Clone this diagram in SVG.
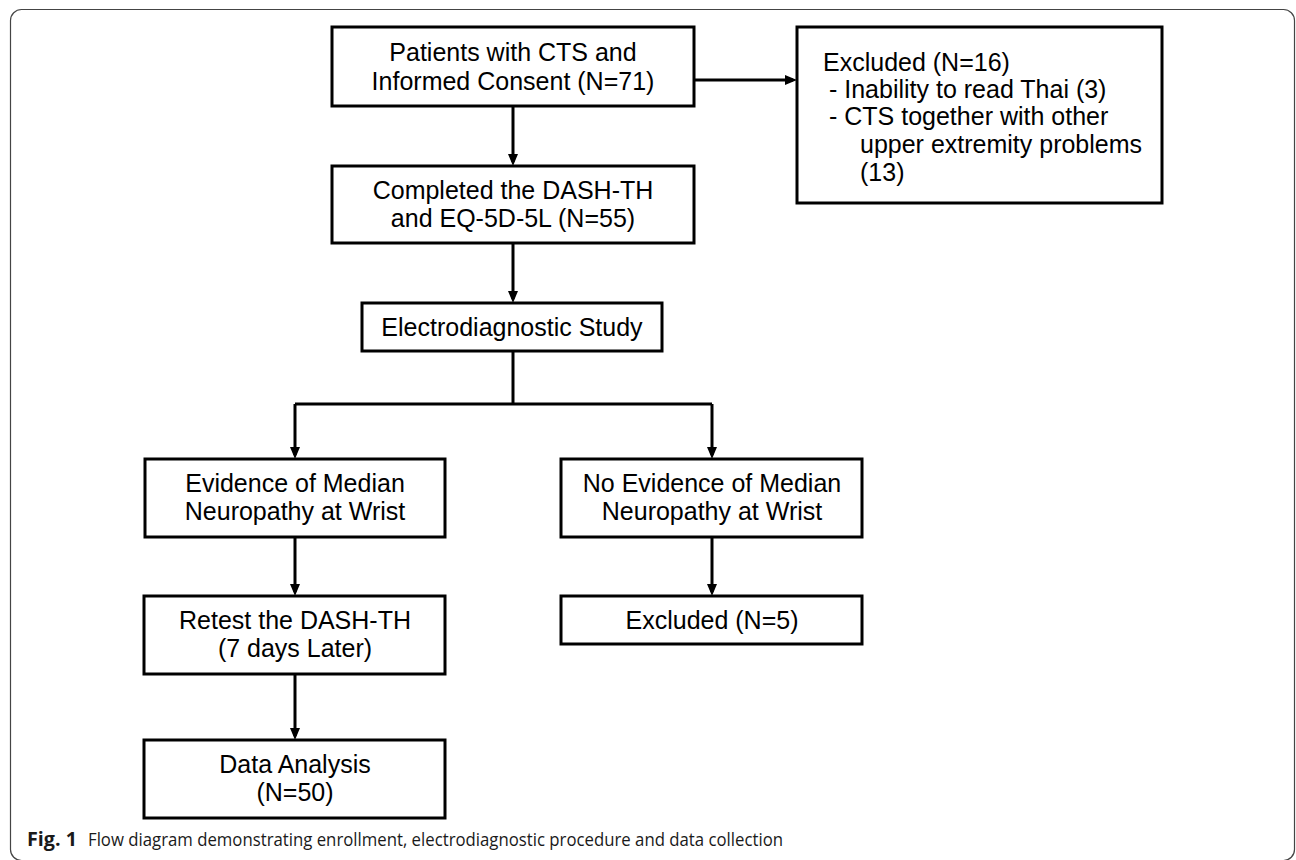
<svg xmlns="http://www.w3.org/2000/svg" width="1296" height="860" viewBox="0 0 1296 860">
<style>
.box{fill:#fff;stroke:#000;stroke-width:3}
.t{font-family:"Liberation Sans",Arial,sans-serif;font-size:25px;fill:#000;text-anchor:middle}
.tl{font-family:"Liberation Sans",Arial,sans-serif;font-size:25px;fill:#000}
.c{fill:none;stroke:#000;stroke-width:3}
.cap{font-family:"Open Sans","Noto Sans",sans-serif;font-size:19px;fill:#1a1a1a}
</style>
<defs>
<marker id="ah" markerUnits="userSpaceOnUse" markerWidth="12" markerHeight="10" refX="8" refY="5" orient="auto">
<path d="M0,0 L12,5 L0,10 z" fill="#000"/>
</marker>
</defs>
<rect x="10.5" y="9.5" width="1284" height="851" rx="11" fill="#fff" stroke="#444" stroke-width="1.2"/>
<g id="connectors">
<path class="c" d="M513,106 V162" marker-end="url(#ah)"/>
<path class="c" d="M694,80 H793" marker-end="url(#ah)"/>
<path class="c" d="M513,243 V299" marker-end="url(#ah)"/>
<path class="c" d="M513,351 V404"/>
<path class="c" d="M295,404 H712"/>
<path class="c" d="M295,404 V455" marker-end="url(#ah)"/>
<path class="c" d="M712,404 V455" marker-end="url(#ah)"/>
<path class="c" d="M295,537 V592" marker-end="url(#ah)"/>
<path class="c" d="M295,674 V736" marker-end="url(#ah)"/>
<path class="c" d="M712,537 V592" marker-end="url(#ah)"/>
</g>
<g id="patients">
<rect class="box" x="332" y="27" width="362" height="79"/>
<text class="t" x="513" y="61">Patients with CTS and</text>
<text class="t" x="513" y="90">Informed Consent (N=71)</text>
</g>
<g id="excluded16">
<rect class="box" x="797" y="27" width="365" height="176"/>
<text class="tl" x="823" y="71">Excluded (N=16)</text>
<text class="tl" x="829" y="98">- Inability to read Thai (3)</text>
<text class="tl" x="829" y="125">- CTS together with other</text>
<text class="tl" x="860" y="153">upper extremity problems</text>
<text class="tl" x="860" y="181">(13)</text>
</g>
<g id="completed">
<rect class="box" x="332" y="166" width="362" height="77"/>
<text class="t" x="513" y="199">Completed the DASH-TH</text>
<text class="t" x="513" y="227">and EQ-5D-5L (N=55)</text>
</g>
<g id="electro">
<rect class="box" x="362" y="303" width="300" height="48"/>
<text class="t" x="512" y="336">Electrodiagnostic Study</text>
</g>
<g id="evidence">
<rect class="box" x="145" y="459" width="300" height="78"/>
<text class="t" x="295" y="492">Evidence of Median</text>
<text class="t" x="295" y="520">Neuropathy at Wrist</text>
</g>
<g id="noevidence">
<rect class="box" x="561" y="459" width="301" height="78"/>
<text class="t" x="712" y="492">No Evidence of Median</text>
<text class="t" x="712" y="520">Neuropathy at Wrist</text>
</g>
<g id="retest">
<rect class="box" x="144" y="596" width="301" height="78"/>
<text class="t" x="295" y="629">Retest the DASH-TH</text>
<text class="t" x="295" y="657">(7 days Later)</text>
</g>
<g id="excluded5">
<rect class="box" x="561" y="596" width="301" height="48"/>
<text class="t" x="712" y="629">Excluded (N=5)</text>
</g>
<g id="analysis">
<rect class="box" x="144" y="740" width="301" height="78"/>
<text class="t" x="295" y="773">Data Analysis</text>
<text class="t" x="295" y="801">(N=50)</text>
</g>
<g id="caption">
<text class="cap" x="27" y="846" font-weight="bold" textLength="50" lengthAdjust="spacingAndGlyphs">Fig. 1</text>
<text class="cap" x="88" y="846" textLength="695" lengthAdjust="spacingAndGlyphs">Flow diagram demonstrating enrollment, electrodiagnostic procedure and data collection</text>
</g>
</svg>
